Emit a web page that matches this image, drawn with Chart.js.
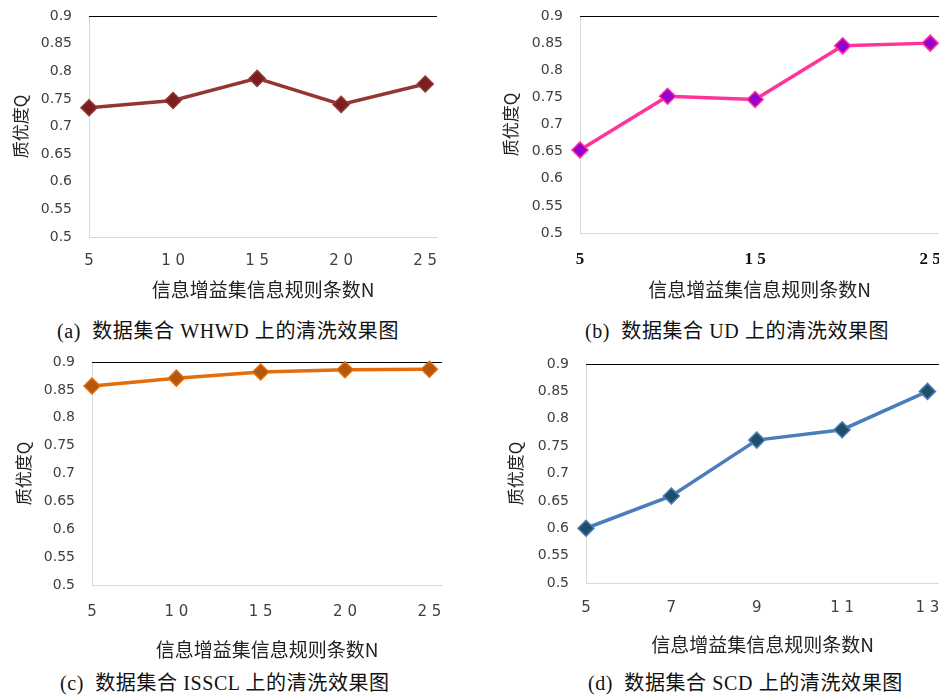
<!DOCTYPE html>
<html>
<head>
<meta charset="utf-8">
<script src="https://cdn.jsdelivr.net/npm/chart.js@4.4.1/dist/chart.umd.min.js"></script>
<style>
  body { margin: 0; background: #fff; width: 939px; height: 697px; position: relative; overflow: hidden; }
  canvas { position: absolute; }
  .cap { position: absolute; font-family: "Liberation Serif", "Noto Sans CJK SC", serif; font-size: 20px; letter-spacing: 0.6px; color: #111; white-space: pre; line-height: 24px; }
</style>
</head>
<body>
<canvas id="chartA" width="470" height="310" style="left:0;top:0"></canvas>
<canvas id="chartB" width="500" height="310" style="left:470px;top:0"></canvas>
<canvas id="chartC" width="470" height="325" style="left:0;top:345px"></canvas>
<canvas id="chartD" width="500" height="320" style="left:470px;top:345px"></canvas>

<div class="cap" style="left:57px;top:319px">(a)  数据集合 WHWD 上的清洗效果图</div>
<div class="cap" style="left:585px;top:319px">(b)  数据集合 UD 上的清洗效果图</div>
<div class="cap" style="left:60px;top:671px">(c)  数据集合 ISSCL 上的清洗效果图</div>
<div class="cap" style="left:588px;top:671px">(d)  数据集合 SCD 上的清洗效果图</div>

<script>
// data
const whwdN = [5, 10, 15, 20, 25];
const whwdQ = [0.734, 0.747, 0.787, 0.740, 0.777];
const whwdTicks = ['5', '1 0', '1 5', '2 0', '2 5'];

const udN = [5, 10, 15, 20, 25];
const udQ = [0.653, 0.752, 0.746, 0.845, 0.850];
const udTicks = ['5', '', '1 5', '', '2 5'];

const issclN = [5, 10, 15, 20, 25];
const issclQ = [0.857, 0.871, 0.882, 0.886, 0.887];
const issclTicks = ['5', '1 0', '1 5', '2 0', '2 5'];

const scdN = [5, 7, 9, 11, 13];
const scdQ = [0.600, 0.659, 0.761, 0.780, 0.850];
const scdTicks = ['5', '7', '9', '1 1', '1 3'];

const yValues = [0.5, 0.55, 0.6, 0.65, 0.7, 0.75, 0.8, 0.85, 0.9];
const yTicks = ['0.5', '0.55', '0.6', '0.65', '0.7', '0.75', '0.8', '0.85', '0.9'];

const yTitle = '质优度Q';
const xTitle = '信息增益集信息规则条数N';

// black line along the top of the plot area
const topLine = {
  id: 'topLine',
  beforeDatasetsDraw(chart) {
    const a = chart.chartArea, c = chart.ctx;
    c.save();
    c.strokeStyle = '#000';
    c.lineWidth = 1;
    c.beginPath();
    c.moveTo(a.left, a.top + 0.5);
    c.lineTo(a.right, a.top + 0.5);
    c.stroke();
    c.restore();
  }
};

function makeChart(id, xs, ys, xLabels, o) {
  const ctx = document.getElementById(id).getContext('2d');
  return new Chart(ctx, {
    type: 'line',
    data: {
      datasets: [{
        data: xs.map((x, i) => ({ x: x, y: ys[i] })),
        borderColor: o.line,
        borderWidth: 3.5,
        pointStyle: 'rectRot',
        pointRadius: 8,
        pointBackgroundColor: o.marker,
        pointBorderColor: o.line,
        pointBorderWidth: 1.5,
        tension: 0,
        clip: false
      }]
    },
    options: {
      responsive: false,
      animation: false,
      layout: { padding: { left: 0, top: o.top, right: o.right, bottom: 0 } },
      plugins: { legend: { display: false }, tooltip: { enabled: false } },
      scales: {
        x: {
          type: 'linear',
          min: xs[0],
          max: o.xmax,
          afterBuildTicks: s => { s.ticks = xs.map(v => ({ value: v })); },
          afterFit: s => { s.height = o.xh; },
          // hidden tick marks only used as spacing before the labels
          grid: { display: false, drawTicks: true, tickLength: o.xpad },
          border: { display: true, color: '#d9d9d9', width: 1 },
          ticks: {
            padding: 0,
            maxRotation: 0,
            autoSkip: false,
            color: o.xtickColor || '#404040',
            font: o.xtickFont || { family: 'DejaVu Sans', size: 15 },
            callback: (v, i) => xLabels[i]
          },
          title: {
            display: true,
            text: xTitle,
            color: '#222',
            font: { family: 'Noto Sans CJK SC', size: 19 },
            padding: o.xtp
          }
        },
        y: {
          min: 0.5,
          max: 0.9,
          afterBuildTicks: s => { s.ticks = yValues.map(v => ({ value: v })); },
          afterFit: s => { s.width = o.yw; },
          grid: { display: false, drawTicks: true, tickLength: 17 },
          border: { display: true, color: '#d9d9d9', width: 1 },
          ticks: {
            padding: 0,
            color: '#404040',
            font: { family: 'DejaVu Sans', size: 14 },
            callback: (v, i) => yTicks[i]
          },
          title: {
            display: true,
            text: yTitle,
            color: '#222',
            font: { family: 'Noto Sans CJK SC', size: 17 },
            padding: o.ytp
          }
        }
      }
    },
    plugins: [topLine]
  });
}

makeChart('chartA', whwdN, whwdQ, whwdTicks, {
  line: '#943634', marker: '#7a1f1f',
  top: 16, right: 33, xmax: 25.7, xh: 73, xpad: 15, xtp: 9, yw: 89, ytp: 10
});

makeChart('chartB', udN, udQ, udTicks, {
  line: '#ff3399', marker: '#9900cc',
  top: 16, right: 31, xmax: 25.5, xh: 77, xpad: 16, xtp: 9, yw: 110, ytp: 30,
  xtickColor: '#111', xtickFont: { family: 'Liberation Serif', size: 17, weight: 'bold' }
});

makeChart('chartC', issclN, issclQ, issclTicks, {
  line: '#e46c0a', marker: '#b4570a',
  top: 17, right: 28, xmax: 25.75, xh: 85, xpad: 18, xtp: 9, yw: 92, ytp: 13
});

makeChart('chartD', scdN, scdQ, scdTicks, {
  line: '#4a7ebb', marker: '#1f4e6a',
  top: 19, right: 31, xmax: 13.27, xh: 82, xpad: 16, xtp: 9, yw: 116, ytp: 35
});
</script>
</body>
</html>
